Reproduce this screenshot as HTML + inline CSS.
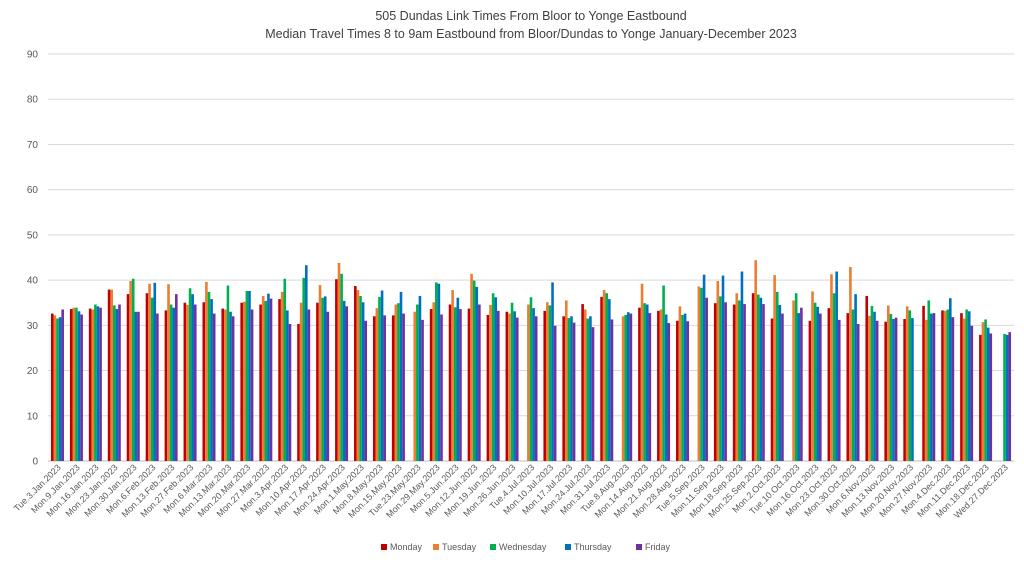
<!DOCTYPE html>
<html><head><meta charset="utf-8">
<style>
html,body{margin:0;padding:0;background:#fff;}
svg{display:block;font-family:"Liberation Sans",Arial,sans-serif;}
</style></head>
<body>
<svg id="chart" width="1024" height="563" viewBox="0 0 1024 563" xmlns="http://www.w3.org/2000/svg">
<text x="531" y="20" text-anchor="middle" font-size="12.5" fill="#404040">505 Dundas Link Times From Bloor to Yonge Eastbound</text>
<text x="531" y="38" text-anchor="middle" font-size="12.5" fill="#404040">Median Travel Times 8 to 9am Eastbound from Bloor/Dundas to Yonge January-December 2023</text>
<g id="grid"></g><g id="bars"></g><g id="xlabels"></g>
<g id="legend"></g>
</svg>
<script>
const categories=["Tue.3.Jan.2023","Mon.9.Jan.2023","Mon.16.Jan.2023","Mon.23.Jan.2023","Mon.30.Jan.2023","Mon.6.Feb.2023","Mon.13.Feb.2023","Mon.27.Feb.2023","Mon.6.Mar.2023","Mon.13.Mar.2023","Mon.20.Mar.2023","Mon.27.Mar.2023","Mon.3.Apr.2023","Mon.10.Apr.2023","Mon.17.Apr.2023","Mon.24.Apr.2023","Mon.1.May.2023","Mon.8.May.2023","Mon.15.May.2023","Tue.23.May.2023","Mon.29.May.2023","Mon.5.Jun.2023","Mon.12.Jun.2023","Mon.19.Jun.2023","Mon.26.Jun.2023","Tue.4.Jul.2023","Mon.10.Jul.2023","Mon.17.Jul.2023","Mon.24.Jul.2023","Mon.31.Jul.2023","Tue.8.Aug.2023","Mon.14.Aug.2023","Mon.21.Aug.2023","Mon.28.Aug.2023","Tue.5.Sep.2023","Mon.11.Sep.2023","Mon.18.Sep.2023","Mon.25.Sep.2023","Mon.2.Oct.2023","Tue.10.Oct.2023","Mon.16.Oct.2023","Mon.23.Oct.2023","Mon.30.Oct.2023","Mon.6.Nov.2023","Mon.13.Nov.2023","Mon.20.Nov.2023","Mon.27.Nov.2023","Mon.4.Dec.2023","Mon.11.Dec.2023","Mon.18.Dec.2023","Wed.27.Dec.2023"];
const monday=[32.6,33.6,33.7,37.9,36.9,37.1,33.3,35,35.1,33.7,35,34.6,35.8,30.3,35,40.2,38.7,32,32.2,null,33.6,34.6,33.7,32.3,33,null,33.2,32,34.7,36.3,null,33.9,33.2,31,null,34.9,34.6,37.1,31.5,null,31,33.8,32.7,36.5,30.8,31.4,34.3,33.3,32.7,27.9,null];
const tuesday=[32.2,33.9,33.5,37.9,39.8,39.2,39.1,34.5,39.6,33.5,35.2,36.5,37.4,35,38.9,43.8,37.8,33.8,34.6,33,35.1,37.8,41.4,34.5,32.6,34.6,35.1,35.5,33.5,37.8,32,39.2,33.5,34.2,38.6,39.8,37.1,44.4,41.1,35.5,37.5,41.3,42.9,32.1,34.4,34.2,31.2,33.2,31.5,30.7,null];
const wednesday=[31.5,33.9,34.6,34.4,40.3,36.1,34.6,38.2,37.4,38.8,37.6,35.4,40.3,40.5,36.1,41.4,36.5,36.3,34.9,34.6,39.5,34,39.9,37.1,35,36.2,34.4,31.6,31.5,37.1,32.3,34.9,38.8,32.3,38.3,36.4,35.5,36.8,37.4,37.1,35,37.1,33.5,34.3,32.5,33.3,35.5,33.5,33.5,31.3,28.1];
const thursday=[31.8,33.1,34.2,33.6,33,39.4,33.9,36.9,35.8,33,37.6,37,33.3,43.3,36.4,35.4,35.1,37.7,37.4,36.5,39.2,36.1,38.5,36.2,33.1,33.8,39.5,32,32,35.8,32.9,34.6,32.4,32.6,41.2,41,41.9,36.1,34.5,32.7,34.1,41.9,36.9,33,31.4,31.6,32.6,36,33.1,29.5,27.9];
const friday=[33.5,32.4,33.9,34.6,33,32.6,36.9,34.6,32.6,32,33.5,35.9,30.3,33.5,33,34.2,31,32.2,32.6,31.2,32.4,33.6,34.6,33.2,31.7,32,29.9,30.6,29.6,31.3,32.6,32.7,30.5,30.9,36.1,35.1,34.7,34.7,32.6,33.9,32.6,31.2,30.3,31,31.7,null,32.7,31.8,29.9,28.2,28.5];
const seriesNames=["Monday","Tuesday","Wednesday","Thursday","Friday"];
const seriesColors=["#c00000","#ed7d31","#00b050","#0070c0","#7030a0"];
const yTicks=[0,10,20,30,40,50,60,70,80,90];
const series=[monday,tuesday,wednesday,thursday,friday];

const NS="http://www.w3.org/2000/svg";
const L=48,R=1014,Y0=461,Y90=54,YMAX=90;
const y=v=>Y0-(v/YMAX)*(Y0-Y90);
const bw=(R-L)/categories.length;
const x=i=>L+i*bw;
function mk(tag,attrs,parent){const e=document.createElementNS(NS,tag);for(const k in attrs)e.setAttribute(k,attrs[k]);parent.appendChild(e);return e;}
const grid=document.getElementById('grid');
yTicks.forEach(t=>{
  const l=mk('line',{x1:L,x2:R,y1:y(t),y2:y(t),stroke:t===0?'#bfbfbf':'#d9d9d9','stroke-width':1},grid);
  
  
  const tx=mk('text',{x:38,y:y(t)+3.5,'text-anchor':'end','font-size':10,fill:'#595959'},grid);
  tx.textContent=t;
  
  
});
const bars=document.getElementById('bars');
const barW=2.6, groupW=barW*5;
categories.forEach((c,i)=>{
  const start=x(i)+(bw-groupW)/2;
  series.forEach((s,j)=>{
    const v=s[i]; if(v==null)return;
    const r=mk('rect',{x:start+j*barW,y:y(v),width:barW,height:Y0-y(v),fill:seriesColors[j]},bars);
    
    
  });
  const cx=x(i)+bw/2+4;
  const t=mk('text',{x:cx,y:468,'text-anchor':'end','font-size':9,fill:'#595959',transform:`rotate(-45 ${cx} 468)`},document.getElementById('xlabels'));
  t.textContent=c;
  
  
});
const lg=document.getElementById('legend');
const lx=[381,433,490,565,636];
seriesNames.forEach((n,j)=>{
  const r=mk('rect',{x:lx[j],y:544,width:6,height:6,fill:seriesColors[j]},lg);
  
  
  const t=mk('text',{x:lx[j]+9,y:550,'font-size':9,fill:'#595959'},lg);
  t.textContent=n;
  
  
});
</script>
</body></html>
